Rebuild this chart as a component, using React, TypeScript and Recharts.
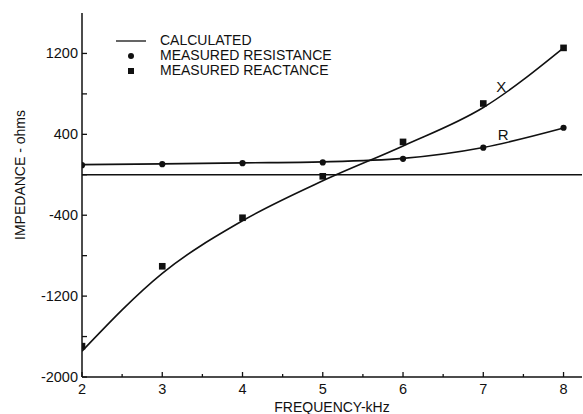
import {
  ComposedChart,
  Line,
  Scatter,
  XAxis,
  YAxis,
  ZAxis,
  ReferenceLine,
  LabelList,
} from "recharts";

const FREQ = [2, 3, 4, 5, 6, 7, 8];
const R_MEASURED = [95, 105, 115, 122, 158, 268, 465];
const X_MEASURED = [-1695, -905, -425, -15, 325, 705, 1255];
const R_CALC = [100, 108, 118, 128, 162, 270, 462];
const X_CALC = [-1745, -975, -455, -60, 285, 665, 1255];

const X_TICKS = [2, 2.5, 3, 3.5, 4, 4.5, 5, 5.5, 6, 6.5, 7, 7.5, 8];
const Y_TICKS = [-2000, -1600, -1200, -800, -400, 0, 400, 800, 1200];
const Y_LABELED = [-2000, -1200, -400, 400, 1200];

const LEGEND_ITEMS = ["CALCULATED", "MEASURED RESISTANCE", "MEASURED REACTANCE"];
const CURVE_TAGS = { x: "X", r: "R" };
const TAG_INDEX = 5;

const rows = FREQ.map((f, i) => ({
  f,
  rMeas: R_MEASURED[i],
  xMeas: X_MEASURED[i],
  rCalc: R_CALC[i],
  xCalc: X_CALC[i],
}));

const FONT = "'Liberation Sans', Arial, sans-serif";
const INK = "#111";

// ticks point inward on every side, so draw the tick line and the text ourselves
// eslint-disable-next-line @typescript-eslint/no-explicit-any
const BottomTick = (p: any) => {
  const v = p.payload.value;
  const major = Number.isInteger(v);
  return (
    <g>
      <line x1={p.x} x2={p.x} y1={p.y} y2={p.y - (major ? 5 : 3)} stroke={INK} strokeWidth={1.3} />
      {major && (
        <text x={p.x} y={p.y + 17} textAnchor="middle" fontSize={14.5} fontFamily={FONT} fill={INK}>
          {v}
        </text>
      )}
    </g>
  );
};
// eslint-disable-next-line @typescript-eslint/no-explicit-any
const TopTick = (p: any) => (
  <line x1={p.x} x2={p.x} y1={p.y} y2={p.y + 4} stroke={INK} strokeWidth={1.3} />
);
// eslint-disable-next-line @typescript-eslint/no-explicit-any
const LeftTick = (p: any) => {
  const v = p.payload.value;
  return (
    <g>
      <line x1={p.x} x2={p.x + 5} y1={p.y} y2={p.y} stroke={INK} strokeWidth={1.3} />
      {Y_LABELED.includes(v) && (
        <text x={p.x - 4} y={p.y + 5} textAnchor="end" fontSize={14.5} fontFamily={FONT} fill={INK}>
          {v}
        </text>
      )}
    </g>
  );
};
// eslint-disable-next-line @typescript-eslint/no-explicit-any
const RightTick = (p: any) => (
  <line x1={p.x - 5} x2={p.x} y1={p.y} y2={p.y} stroke={INK} strokeWidth={1.3} />
);

function LegendBox() {
  const marker = (i: number) => {
    if (i === 0) return <line x1={0} y1={7} x2={30} y2={7} stroke={INK} strokeWidth={1.3} />;
    if (i === 1) return <circle cx={15} cy={7} r={3} fill={INK} />;
    return <rect x={12} y={4} width={6} height={6} fill={INK} />;
  };
  return (
    <div
      style={{
        position: "absolute",
        left: 116,
        top: 33,
        fontFamily: FONT,
        fontSize: 14,
        color: INK,
      }}
    >
      {LEGEND_ITEMS.map((label, i) => (
        <div key={label} style={{ display: "flex", alignItems: "center", height: 15 }}>
          <svg width={44} height={14}>{marker(i)}</svg>
          <span style={{ lineHeight: "15px" }}>{label}</span>
        </div>
      ))}
    </div>
  );
}

function tagRenderer(text: string, dx: number, dy: number) {
  // eslint-disable-next-line @typescript-eslint/no-explicit-any
  return (props: any) => {
    if (props.index !== TAG_INDEX) return null;
    return (
      <text x={props.x + dx} y={props.y + dy} textAnchor="middle" fontSize={15} fontFamily={FONT} fill={INK}>
        {text}
      </text>
    );
  };
}

export default function App() {
  return (
    <div style={{ position: "absolute", left: 0, top: 0, width: 583, height: 414, background: "#fff" }}>
      <ComposedChart
        width={583}
        height={414}
        data={rows}
        margin={{ top: 13, right: 1, bottom: 0, left: 0 }}
      >
        <XAxis
          dataKey="f"
          type="number"
          domain={[2, 8.23]}
          ticks={X_TICKS}
          allowDataOverflow
          height={37}
          tickLine={false}
          tickSize={0}
          tickMargin={0}
          tick={BottomTick}
          stroke={INK}
          strokeWidth={1.5}
          label={{ value: "FREQUENCY-kHz", position: "insideBottom", offset: 2, style: { fontSize: 14, fill: INK, fontFamily: FONT } }}
        />
        <XAxis
          xAxisId="top"
          orientation="top"
          dataKey="f"
          type="number"
          domain={[2, 8.23]}
          ticks={X_TICKS}
          allowDataOverflow
          height={0}
          tickLine={false}
          tickSize={0}
          tickMargin={0}
          tick={TopTick}
          stroke={INK}
          strokeWidth={1.5}
        />
        <YAxis
          type="number"
          domain={[-2000, 1600]}
          ticks={Y_TICKS}
          allowDataOverflow
          width={82}
          tickLine={false}
          tickSize={0}
          tickMargin={0}
          tick={LeftTick}
          stroke={INK}
          strokeWidth={1.5}
          label={{ value: "IMPEDANCE - ohms", angle: -90, position: "insideLeft", offset: 20, dy: -20, style: { fontSize: 14, fill: INK, fontFamily: FONT, textAnchor: "middle" } }}
        />
        <YAxis
          yAxisId="right"
          orientation="right"
          type="number"
          domain={[-2000, 1600]}
          ticks={Y_TICKS}
          allowDataOverflow
          width={0}
          tickLine={false}
          tickSize={0}
          tickMargin={0}
          tick={RightTick}
          axisLine={false}
        />
        <ZAxis zAxisId="dot" range={[30, 30]} />
        <ZAxis zAxisId="sq" range={[44, 44]} />
        <ReferenceLine y={0} stroke={INK} strokeWidth={1.5} />
        <Line
          dataKey="xCalc"
          type="monotone"
          stroke={INK}
          strokeWidth={1.6}
          dot={false}
          isAnimationActive={false}
        >
          <LabelList dataKey="xCalc" content={tagRenderer(CURVE_TAGS.x, 18, -16)} />
        </Line>
        <Line
          dataKey="rCalc"
          type="monotone"
          stroke={INK}
          strokeWidth={1.6}
          dot={false}
          isAnimationActive={false}
        >
          <LabelList dataKey="rCalc" content={tagRenderer(CURVE_TAGS.r, 20, -7)} />
        </Line>
        <Scatter dataKey="rMeas" zAxisId="dot" shape="circle" fill={INK} isAnimationActive={false} />
        <Scatter dataKey="xMeas" zAxisId="sq" shape="square" fill={INK} isAnimationActive={false} />
      </ComposedChart>
      <LegendBox />
    </div>
  );
}
